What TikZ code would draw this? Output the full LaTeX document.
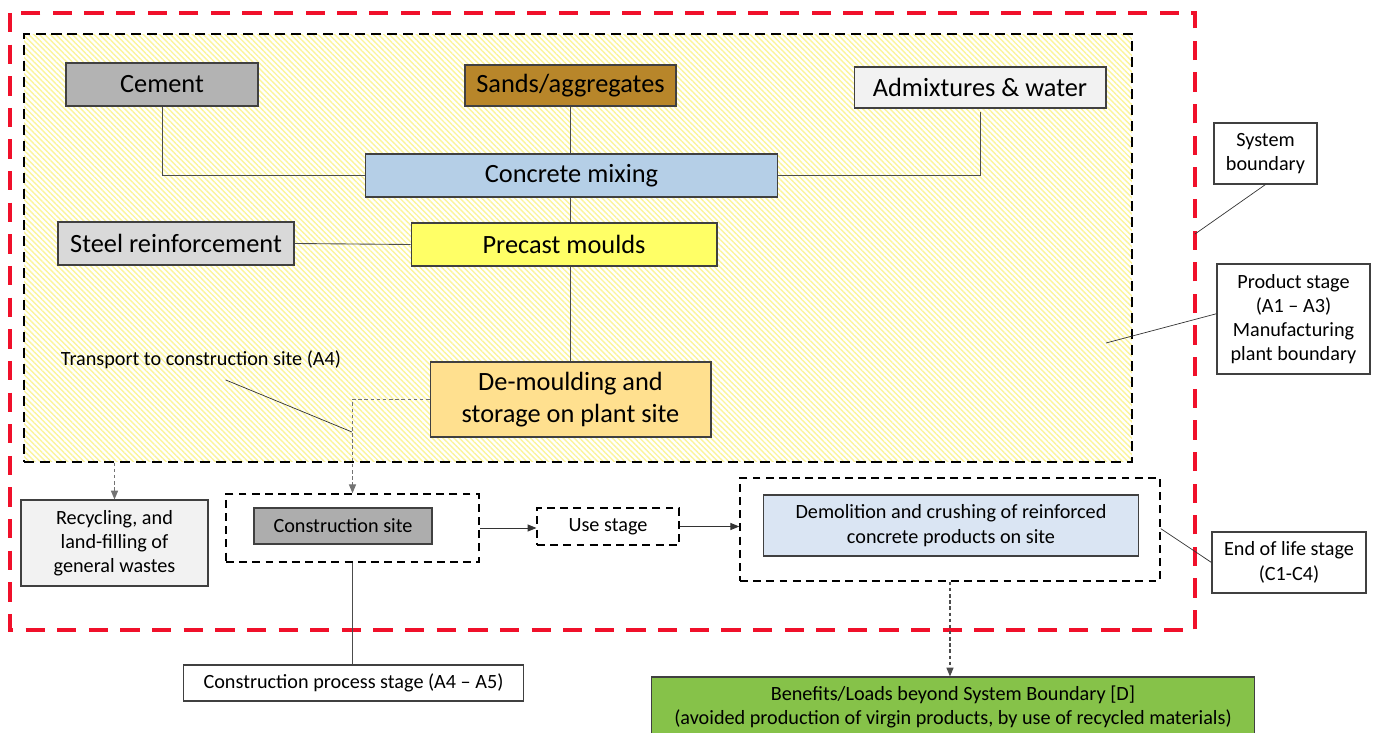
\documentclass[tikz,border=0pt]{standalone}
\usepackage{fontspec}
\setmainfont{Carlito}
\usetikzlibrary{arrows.meta,patterns.meta}

\definecolor{cementc}{HTML}{B3B3B3}
\definecolor{sandc}{HTML}{B8862A}
\definecolor{admixc}{HTML}{F2F2F2}
\definecolor{mixc}{HTML}{B5CFE7}
\definecolor{steelc}{HTML}{D9D9D9}
\definecolor{mouldc}{HTML}{FFFF66}
\definecolor{demouldc}{HTML}{FFE08F}
\definecolor{sitec}{HTML}{ADADAD}
\definecolor{demolc}{HTML}{DAE5F3}
\definecolor{greenc}{HTML}{86C249}
\definecolor{hatchc}{HTML}{FBF49C}
\definecolor{redc}{HTML}{F0102A}

\newcommand{\bigfont}{\fontsize{15}{18.3}\selectfont}
\newcommand{\smallfont}{\fontsize{11.5}{13.8}\selectfont}

\begin{document}
\begin{tikzpicture}[x=0.02cm,y=-0.02cm,
box/.style={draw=black!75,line width=0.6pt,inner sep=2pt,align=center},
big/.style={box,font=\bigfont},
small/.style={box,font=\smallfont},
dbox/.style={draw,dash pattern=on 4.5pt off 3pt,line width=0.9pt},
link/.style={draw=black!70,line width=0.5pt},
pointer/.style={draw=black!80,line width=0.4pt},
arr/.style={-{Triangle[length=5pt,width=4pt]},draw=black!80,line width=0.5pt},
flow/.style={-{Triangle[length=5pt,width=4pt]},dash pattern=on 2pt off 1.5pt,draw=black!55,line width=0.6pt}]
	\useasboundingbox (0,0) rectangle (1374,733);

	%system boundary
	\draw[redc,line width=2pt,dash pattern=on 11pt off 7pt] (10,13) rectangle (1195,630);
	\coordinate (sb) at (1195,234);

	%manufacturing plant
	\node[draw,dash pattern=on 5.7pt off 3.4pt,line width=1.2pt,
		pattern={Lines[angle=-45,distance=2.2pt,line width=0.8pt]},pattern color=hatchc,
		minimum width=22.16cm,minimum height=8.56cm] at (578,248) (plant) {};
	\coordinate (pp) at (1106,343);

	%product stage
	\node[big,fill=cementc,minimum width=3.84cm,minimum height=0.86cm] at (162,84.5) (cement) {Cement};
	\node[big,fill=sandc,minimum width=4.22cm,minimum height=0.82cm] at (570.5,85.5) (sands) {Sands/aggregates};
	\node[big,fill=admixc,minimum width=5.04cm,minimum height=0.82cm] at (980,87.5) (admix) {Admixtures \& water};
	\node[big,fill=mixc,minimum width=8.26cm,minimum height=0.86cm] at (571.5,175.5) (mixing) {Concrete mixing};
	\node[big,fill=steelc,minimum width=4.72cm,minimum height=0.86cm] at (176,243.5) (steel) {Steel reinforcement};
	\node[big,fill=mouldc,minimum width=6.12cm,minimum height=0.86cm] at (564,244.5) (moulds) {Precast moulds};
	\node[big,fill=demouldc,minimum width=5.62cm,minimum height=1.50cm] at (570.5,399.5) (demould) {De-moulding and\\storage on plant site};
	\node[font=\smallfont,inner sep=0] at (201,360) (transport) {Transport to construction site (A4)};
	\coordinate (tp) at (352,432);

	%construction, use, end of life
	\node[small,fill=admixc,minimum width=3.74cm,minimum height=1.72cm] at (114.5,543) (recycle) {Recycling, and\\land-filling of\\general wastes};
	\node[dbox,minimum width=5.06cm,minimum height=1.36cm] at (352.5,528) (csbox) {};
	\node[small,fill=sitec,minimum width=3.56cm,minimum height=0.72cm] at (343,526) (csite) {Construction site};
	\node[dbox,line width=0.7pt,font=\smallfont,minimum width=2.84cm,minimum height=0.74cm] at (608,526.5) (use) {Use stage};
	\node[dbox,minimum width=8.40cm,minimum height=2.06cm] at (950,529.5) (dbox) {};
	\node[small,fill=demolc,minimum width=7.52cm,minimum height=1.22cm] at (951,525.5) (demol) {Demolition and crushing of reinforced\\concrete products on site};
	\node[small,fill=greenc,minimum width=12.08cm,minimum height=1.20cm] at (953,707) (green) {Benefits/Loads beyond System Boundary [D]\\(avoided production of virgin products, by use of recycled materials)};

	%side labels
	\node[small,fill=white,minimum width=2.06cm,minimum height=1.22cm] at (1265.5,153.5) (sysb) {System\\boundary};
	\node[small,fill=white,minimum width=3.06cm,minimum height=2.20cm] at (1293.5,319) (prod) {Product stage\\(A1 -- A3)\\Manufacturing\\plant boundary};
	\node[small,fill=white,minimum width=3.08cm,minimum height=1.22cm] at (1289,562.5) (eol) {End of life stage\\(C1-C4)};
	\node[small,fill=white,minimum width=6.82cm,minimum height=0.72cm] at (353.5,683) (cproc) {Construction process stage (A4 -- A5)};

	%mixing links
	\draw[link] (cement.south) |- (mixing.west);
	\draw[link] (sands.south) -- (sands.south |- mixing.north);
	\draw[link] ([yshift=-2pt]admix.south) |- (mixing.east);
	\draw[link] (mixing.south -| demould.north) -- (moulds.north -| demould.north);
	\draw[link] (steel.east) -- (moulds.west);
	\draw[link] (moulds.south -| demould.north) -- (demould.north);

	%flows
	\draw[flow] (demould.west) -| (csbox.north);
	\draw[flow] (recycle.north |- plant.south) -- (recycle.north);
	\draw[arr] (csbox.east) -- (csbox.east -| use.west);
	\draw[arr] (use.east) -- (use.east -| dbox.west);
	\draw[flow,draw=black!70] (dbox.south) -- (green.north -| dbox.south);
	\draw[link] (csbox.south) -- (cproc.north -| csbox.south);

	%pointers
	\draw[pointer] ([xshift=14pt,yshift=-6pt]transport.south) -- (tp);
	\draw[pointer] (sysb.south) -- (sb);
	\draw[pointer] (pp) -- ([yshift=3pt]prod.west);
	\draw[pointer] ([yshift=0.5pt]dbox.east) -- (eol.west);
\end{tikzpicture}
\end{document}
